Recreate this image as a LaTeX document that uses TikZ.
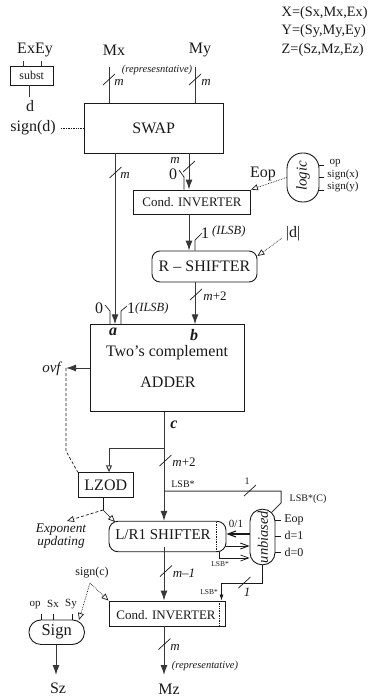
\documentclass[tikz,border=0pt]{standalone}
\usepackage{fontspec}
\setmainfont{Liberation Serif}
\usetikzlibrary{arrows.meta}
\definecolor{ink}{gray}{0.10}
\definecolor{wire}{gray}{0.22}
\tikzset{
  wirel/.style={draw=wire,line width=1pt},
  boxn/.style={draw=ink,line width=0.9pt,inner sep=0pt,text=ink,align=center},
  rbox/.style={boxn,rounded corners=#1},
  lab/.style={inner sep=0pt,text=ink,align=center},
  arr/.style={-{Latex[length=10pt,width=7pt]}},
  oarr/.style={-{Triangle[open,length=7pt,width=6pt]}},
  thin arr/.style={-{Straight Barb[length=8pt,width=6pt]}},
  dots/.style={draw=ink,line width=0.7pt,densely dotted},
  dashl/.style={draw=ink,line width=0.7pt,dash pattern=on 3pt off 2pt},
  hair/.style={draw=ink,line width=0.7pt},
  fa/.style={font=\fontsize{16}{16}\selectfont},
  fb/.style={font=\fontsize{13}{13}\selectfont},
  fc/.style={font=\fontsize{12}{12}\selectfont},
  fd/.style={font=\fontsize{10}{10}\selectfont},
  fs/.style={font=\fontsize{11}{11}\selectfont},
  fm/.style={font=\fontsize{13}{13}\selectfont\itshape},
  fe/.style={font=\fontsize{10.5}{10.5}\selectfont\itshape},
  fi/.style={font=\fontsize{12.5}{12.5}\selectfont\itshape},
  ff/.style={font=\fontsize{7.5}{7.5}\selectfont},
  fx/.style={font=\fontsize{14.3}{14.3}\selectfont},
  fbi/.style={font=\fontsize{16}{16}\selectfont\bfseries\itshape},
}
\newcommand{\slsh}[2]{\draw[hair] (#1-6,#2+5.5) -- (#1+6,#2-5.5);}
\begin{document}
\begin{tikzpicture}[x=1pt,y=-1pt]
\useasboundingbox (0,0) rectangle (389,698);
% columns
\coordinate (cmx) at (109,0); \coordinate (cmy) at (195,0);
\coordinate (ca) at (115,0); \coordinate (cb) at (189,0);
\coordinate (cz) at (184,0); \coordinate (cc) at (164,0);
\coordinate (c0) at (110,0); \coordinate (c1) at (121,0);
\coordinate (cl) at (109,0); \coordinate (cr) at (281,0);
% header
\node[lab,fx,anchor=west] (defx) at (281.5,13) {X=(Sx,Mx,Ex)};
\node[lab,fx,anchor=west] (defy) at (281.5,31) {Y=(Sy,My,Ey)};
\node[lab,fx,anchor=west] (defz) at (281.5,50) {Z=(Sz,Mz,Ez)};
\node[lab,fa] (exey) at (35,50) {ExEy};
\node[lab,fa] (mx) at (114,50) {Mx};
\node[lab,fa] (my) at (200,50) {My};
% boxes
\node[boxn,fc,minimum width=42.5pt,minimum height=19pt] (subst) at (31.7,75.5) {subst};
\node[lab,fa] (d) at (30,106) {d};
\node[lab,fa] (signd) at (33,128) {sign(d)};
\node[boxn,fa,minimum width=139.5pt,minimum height=50pt] (swap) at (153.7,128) {SWAP};
\node[boxn,fb,minimum width=117pt,minimum height=24pt] (inv1) at (192,202) {Cond. INVERTER};
\node[rbox=8pt,fa,minimum width=105pt,minimum height=31pt] (rsh) at (204.5,266.5) {R -- SHIFTER};
\node[boxn,minimum width=154pt,minimum height=86.5pt] (adder) at (167.5,368) {};
\node[lab,fa] (twos) at (167,352.5) {Two’s complement};
\node[lab,fa] (addt) at (168,382) {ADDER};
\node[lab,fbi] (la) at (113,332) {a};
\node[lab,fbi] (lb) at (194,335) {b};
\node[lab,fbi] (lc) at (174,425) {c};
\node[lab,font=\fontsize{15}{15}\selectfont\itshape] (ovf) at (51.5,369) {ovf};
\node[boxn,font=\fontsize{16}{16}\selectfont,minimum width=55pt,minimum height=24.5pt] (lzod) at (105.8,485) {LZOD};
\node[rbox=9pt,minimum width=117pt,minimum height=30.5pt] (lr) at (167.5,536.5) {};
\node[lab,font=\fontsize{15}{15}\selectfont] (lrt) at (163,535) {L/R1 SHIFTER};
\node[boxn,minimum width=116.5pt,minimum height=25pt] (inv2) at (167.2,613.5) {};
\node[lab,fb] (inv2t) at (166,615.5) {Cond. INVERTER};
\node[rbox=12pt,font=\fontsize{16.5}{16.5}\selectfont,minimum width=55.5pt,minimum height=24.5pt] (sign) at (56.7,632.2) {Sign};
\node[rbox=15.5pt,minimum width=32pt,minimum height=49pt] (logic) at (303,177.5) {};
\node[lab,font=\fontsize{15}{15}\selectfont\itshape,rotate=90] (logict) at (303,176) {logic};
\node[rbox=12pt,minimum width=25pt,minimum height=55.5pt] (unb) at (262.5,537) {};
\node[lab,font=\fontsize{14.5}{14.5}\selectfont\itshape,rotate=90] (unbt) at (263,537) {unbiased};
% labels
\node[lab,fe] (rep1) at (157,70) {(represesntative)};
\node[lab,fm] (m1) at (119,82) {m};
\node[lab,fm] (m2) at (206,82) {m};
\node[lab,fm] (m3) at (125,175) {m};
\node[lab,fm] (m4) at (175,160.5) {m};
\node[lab,fa] (z1) at (173,174) {0};
\node[lab,fa] (eop) at (263,174) {Eop};
\node[lab,fs] (op1) at (335,163) {op};
\node[lab,fs] (sx) at (343,175) {sign(x)};
\node[lab,fs] (sy) at (343,187) {sign(y)};
\node[lab,fa] (o1) at (205,233) {1};
\node[lab,fi,anchor=west] (il1) at (212,231.5) {(ILSB)};
\node[lab,fa] (absd) at (293,234) {|d|};
\node[lab,fb] (mp2) at (215,296) {\textit{m}+2};
\node[lab,fa] (z2) at (99,308) {0};
\node[lab,fa] (o2) at (131,308) {1};
\node[lab,fi,anchor=west] (il2) at (135,308) {(ILSB)};
\node[lab,fb] (mp3) at (184,462) {\textit{m}+2};
\node[lab,fd] (lsb1) at (183,484) {LSB*};
\node[lab,fd] (one1) at (247,481.5) {1};
\node[lab,fd] (lsbc) at (308,499) {LSB*(C)};
\node[lab,font=\fontsize{13.3}{13.3}\selectfont\itshape] (expo) at (61,536) {Exponent\\[0pt]updating};
\node[lab,fs] (lzo) at (236,524) {0/1};
\node[lab,fc] (eop2) at (294,520) {Eop};
\node[lab,fc] (d1) at (294,535) {d=1};
\node[lab,fc] (d0) at (294,552) {d=0};
\node[lab,ff] (lsb2) at (220,564) {LSB*};
\node[lab,ff] (lsb3) at (209,592) {LSB*};
\node[lab,fm] (mm1) at (184,573) {m--1};
\node[lab,fm] (one2) at (247,592) {1};
\node[lab,fc] (signc) at (92,573) {sign(c)};
\node[lab,fs] (op2) at (35,605) {op};
\node[lab,fs] (lsx) at (53,604) {Sx};
\node[lab,fs] (lsy) at (71,604) {Sy};
\node[lab,fm] (m5) at (175,647) {m};
\node[lab,fe] (rep2) at (205,666) {(representative)};
\node[lab,fa] (sz) at (58,688) {Sz};
\node[lab,fa] (mz) at (169,689) {Mz};
% free ends
\coordinate (top) at (0,67);
\coordinate (bend) at (103,510);
\coordinate (sgc) at (90,583);
\coordinate (ovfc) at (66,368);
\coordinate (lsbj) at (0,491);
% connectors
\draw[wirel] (23,61) -- (subst.north -| 23,0);
\draw[wirel] (41,61) -- (subst.north -| 41,0);
\draw[wirel] (29,0 |- subst.south) -- (29,97);
\draw[wirel] (cmx |- top) -- (cmx |- swap.north);
\draw[wirel] (cmy |- top) -- (cmy |- swap.north);
\draw[dots] (signd.east) ++(5,0) -- (swap.west);
\draw[wirel,arr] (ca |- swap.south) -- (ca |- adder.north);
\draw[wirel,arr] (cb |- swap.south) -- (cb |- inv1.north);
\draw[hair] (179,170) -- (184,177) -- (cz |- inv1.north);
\draw[wirel,arr] (cb |- inv1.south) -- (cb |- rsh.north);
\draw[hair] (cmy |- rsh.north) -- (195,240) -- (202,233);
\draw[wirel,arr] (cmy |- rsh.south) -- (cmy |- adder.north);
\draw[hair] (105,305) -- (110,311) -- (c0 |- adder.north);
\draw[hair] (127,306) -- (121,311) -- (c1 |- adder.north);
\draw[dots,oarr] (logic.west) -- (inv1.north east);
\draw[dots,oarr] (282,238) -- (rsh.east |- 0,256);
\foreach \yy in {165,177,190} \draw[hair] (319,\yy) -- (324,\yy);
\draw[wirel,arr] (adder.west |- ovfc) -- (ovfc);
\draw[dashl] (ovfc) -- (66,451) -- (lzod.north west);
\draw[wirel,arr] (cc |- adder.south) -- (cc |- lr.north);
\draw[wirel,oarr] (cc |- 0,448) -- (cl |- 0,448) -- (cl |- lzod.north);
\draw[wirel] (cc |- lsbj) -- (cr |- lsbj) -- (cr |- 0,503) -- (272,512);
\draw[hair] (103,0 |- lzod.south) -- (bend);
\draw[hair,oarr] (bend) -- (115,522);
\draw[dashl,oarr] (bend) -- (67,521);
\draw[dots] (216,522) -- (216,552);
\draw[dots] (219.5,601) -- (219.5,626);
\draw[ink,line width=1.1pt,thin arr] (unb.west |- 0,534) -- (lr.east |- 0,534);
\draw[ink,line width=0.9pt,thin arr] (lr.east |- 0,546) -- (unb.west |- 0,546);
\draw[hair,thin arr] (219,0 |- lr.south) -- (219,558) -- (unb.west |- 0,558);
\foreach \yy in {520,536,552} \draw[hair] (275,\yy) -- (281,\yy);
\draw[wirel,arr] (cc |- 0,547) -- (cc |- inv2.north);
\draw[hair,-{Latex[length=6pt,width=4pt]}] (unb.south) -- (262.5,583) -- (221.5,583) -- (221.5,0 |- inv2.north);
\draw[wirel,arr] (cc |- inv2.south) -- (cc |- 0,675);
\draw[dots,oarr] (sgc) -- (inv2.north west);
\draw[dots,oarr] (sgc) -- (79,620);
\foreach \xx in {41.5,53.5,72} \draw[hair] (\xx,614) -- (\xx,620);
\draw[wirel,arr] (56,0 |- sign.south) -- (56,675);
% bus slashes
\slsh{109}{79.5}\slsh{195}{79.5}\slsh{115.5}{172.5}\slsh{189}{166.5}
\slsh{196}{294.5}\slsh{165.5}{460.5}\slsh{250}{490.5}\slsh{166}{571}
\slsh{244.5}{582.5}\slsh{164.5}{644}
\end{tikzpicture}
\end{document}
